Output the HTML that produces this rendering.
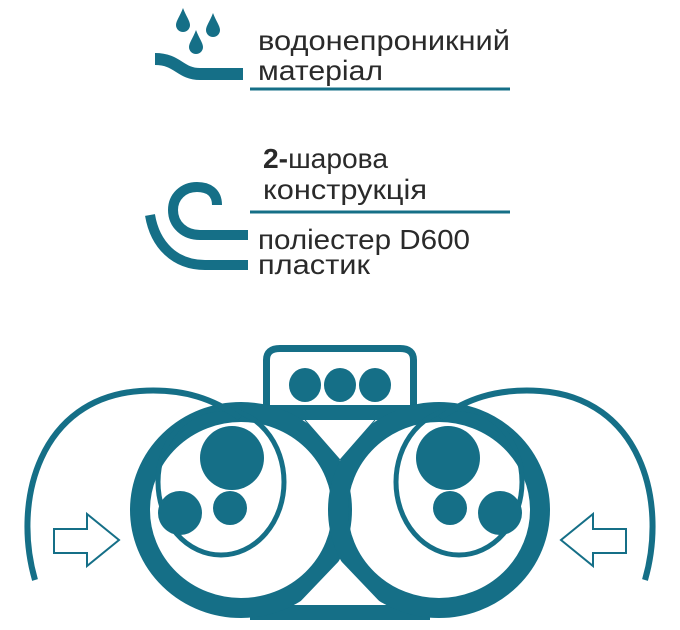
<!DOCTYPE html>
<html><head><meta charset="utf-8"><style>
html,body{margin:0;padding:0;background:#fff;width:680px;height:630px;overflow:hidden}
svg{display:block}
text{font-family:"Liberation Sans",sans-serif;fill:#2a2a2a}
</style></head><body>
<svg width="680" height="630" viewBox="0 0 680 630" xmlns="http://www.w3.org/2000/svg">
<g fill="#156f87">
  <path d="M183,8 C186,16 190,21 190,25 A7,7 0 0 1 176,25 C176,21 180,16 183,8Z"/>
  <path d="M213,13 C216,21 220,26 220,30 A7,7 0 0 1 206,30 C206,26 210,21 213,13Z"/>
  <path d="M196,30 C199,38 203,43 203,47 A7,7 0 0 1 189,47 C189,43 193,38 196,30Z"/>
</g>
<path d="M155,59 C178,59 180,74 200,74 L243,74" fill="none" stroke="#156f87" stroke-width="12"/>
<rect x="250" y="87.5" width="260" height="3" fill="#156f87"/>
<text x="258" y="50" font-size="28" textLength="252" lengthAdjust="spacingAndGlyphs">водонепроникний</text>
<text x="258" y="80" font-size="28" textLength="125" lengthAdjust="spacingAndGlyphs">матеріал</text>

<path d="M217,205 C217,192 208,187 197,187 C183,187 173,197 173,210 C173,225 185,235 200,235 L248,235" fill="none" stroke="#156f87" stroke-width="10"/>
<path d="M150,215 C155,245 175,265 205,265 L248,265" fill="none" stroke="#156f87" stroke-width="10"/>
<rect x="250" y="210.5" width="260" height="3" fill="#156f87"/>
<text x="263" y="168" font-size="28" textLength="125" lengthAdjust="spacingAndGlyphs"><tspan font-weight="bold">2-</tspan>шарова</text>
<text x="263" y="199" font-size="28" textLength="164" lengthAdjust="spacingAndGlyphs">конструкція</text>
<text x="258" y="249" font-size="28" textLength="212" lengthAdjust="spacingAndGlyphs">поліестер D600</text>
<text x="258" y="274" font-size="28" textLength="112" lengthAdjust="spacingAndGlyphs">пластик</text>

<g fill="none" stroke="#156f87">
  <path d="M266.5,420 L266.5,360 Q266.5,348.5 280,348.5 L400,348.5 Q413.5,348.5 413.5,360 L413.5,420" stroke-width="7"/>
</g>
<rect x="257" y="405" width="166" height="15" fill="#156f87"/>
<g fill="#156f87">
  <ellipse cx="305" cy="385" rx="16" ry="17"/>
  <ellipse cx="340" cy="385" rx="16" ry="17"/>
  <ellipse cx="375" cy="385" rx="16" ry="17"/>
</g>
<rect x="250" y="605" width="180" height="15" fill="#156f87"/>
<g id="L">
  <ellipse cx="241" cy="510" rx="101" ry="98" fill="none" stroke="#156f87" stroke-width="20"/>
  <ellipse cx="221" cy="482" rx="63" ry="73" fill="none" stroke="#156f87" stroke-width="5"/>
  <path d="M35,580 C12,500 40,398 140,391 C185,388 215,400 240,418" fill="none" stroke="#156f87" stroke-width="6"/>
  <circle cx="232" cy="458" r="32" fill="#156f87"/>
  <circle cx="180" cy="513" r="22" fill="#156f87"/>
  <circle cx="230" cy="508" r="17" fill="#156f87"/>
  <path d="M54,529 L87,529 L87,514 L119,540 L87,566 L87,553 L54,553 Z" fill="#fff" stroke="#156f87" stroke-width="2"/>
</g>
<use href="#L" transform="translate(680,0) scale(-1,1)"/>
<path d="M305,420 L375,420 L340,460 Z" fill="#fff"/>
<path d="M340,560 L383,605 L297,605 Z" fill="#fff"/>
<path d="M305,420 L340,460 L375,420" fill="none" stroke="#156f87" stroke-width="1"/>
</svg>
</body></html>
